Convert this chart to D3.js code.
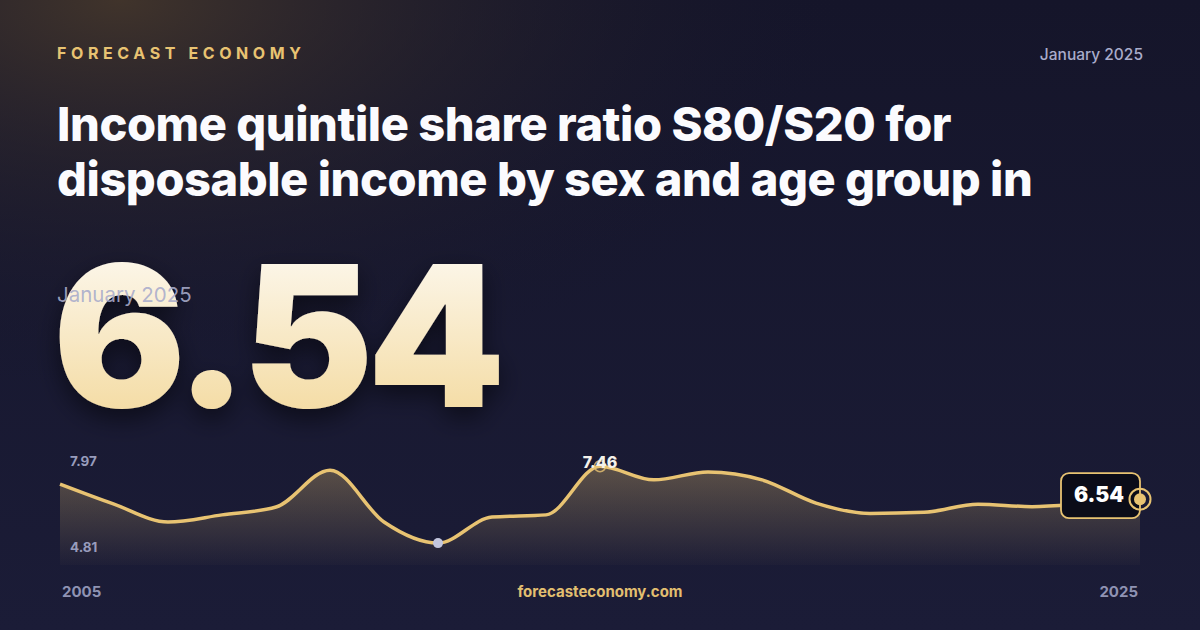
<!DOCTYPE html>
<html>
<head>
<meta charset="utf-8">
<script src="https://cdn.jsdelivr.net/npm/d3@7"></script>
<style>
  html, body { margin: 0; padding: 0; background: #15152a; }
  svg { display: block; font-family: Inter, "Noto Sans", sans-serif; }
</style>
</head>
<body>
<div id="card"></div>
<script>
// data
const years = [2005, 2006, 2007, 2008, 2009, 2010, 2011, 2012, 2013, 2014, 2015,
               2016, 2017, 2018, 2019, 2020, 2021, 2022, 2023, 2024, 2025]
const ratio = [6.96, 6.40, 5.90, 6.10, 6.32, 7.35, 5.90, 5.31, 6.04, 6.10, 7.46,
               7.08, 7.30, 7.08, 6.43, 6.14, 6.17, 6.40, 6.33, 6.42, 6.54]
const yTicks = [7.97, 4.81]
const peakYear = 2015
const minYear = 2012
const headline = "6.54"
const period = "January 2025"
const title = ["Income quintile share ratio S80/S20 for",
               "disposable income by sex and age group in"]

const W = 1200, H = 630
const gold = "#e8c372"

const svg = d3.select("#card").append("svg")
    .attr("width", W)
    .attr("height", H)

const defs = svg.append("defs")

// background: vertical base plus warm glow in the top-left corner
const base = defs.append("linearGradient").attr("id", "bgBase")
    .attr("x1", 0).attr("y1", 0).attr("x2", 0).attr("y2", 1)
base.append("stop").attr("offset", "0%").attr("stop-color", "#15152a")
base.append("stop").attr("offset", "100%").attr("stop-color", "#1b1c37")

const glow = defs.append("radialGradient").attr("id", "bgGlow")
    .attr("cx", "0.1").attr("cy", "0").attr("r", "0.62")
glow.append("stop").attr("offset", "0%").attr("stop-color", "#45372b").attr("stop-opacity", 0.9)
glow.append("stop").attr("offset", "45%").attr("stop-color", "#30292c").attr("stop-opacity", 0.45)
glow.append("stop").attr("offset", "100%").attr("stop-color", "#15152a").attr("stop-opacity", 0)

const numGrad = defs.append("linearGradient").attr("id", "numGrad")
    .attr("x1", 0).attr("y1", 0).attr("x2", 0).attr("y2", 1)
numGrad.append("stop").attr("offset", "0%").attr("stop-color", "#fefdfb")
numGrad.append("stop").attr("offset", "100%").attr("stop-color", "#f2d592")

const areaGrad = defs.append("linearGradient").attr("id", "areaGrad")
    .attr("x1", 0).attr("y1", 0).attr("x2", 0).attr("y2", 1)
areaGrad.append("stop").attr("offset", "0%").attr("stop-color", gold).attr("stop-opacity", 0.32)
areaGrad.append("stop").attr("offset", "100%").attr("stop-color", gold).attr("stop-opacity", 0.02)

const shadow = defs.append("filter").attr("id", "shadow")
    .attr("x", "-20%").attr("y", "-20%").attr("width", "140%").attr("height", "150%")
shadow.append("feDropShadow").attr("dx", 0).attr("dy", 10).attr("stdDeviation", 12)
    .attr("flood-color", "#000").attr("flood-opacity", 0.5)

svg.append("rect").attr("width", W).attr("height", H).attr("fill", "url(#bgBase)")
svg.append("rect").attr("width", W).attr("height", H).attr("fill", "url(#bgGlow)")

// header
svg.append("text")
    .attr("x", 57).attr("y", 59)
    .attr("fill", gold)
    .attr("font-size", 16).attr("font-weight", 700)
    .attr("letter-spacing", 4.6)
    .text("FORECAST ECONOMY")

svg.append("text")
    .attr("x", 1143).attr("y", 60)
    .attr("text-anchor", "end")
    .attr("fill", "#a9accb")
    .attr("font-size", 15.5).attr("font-weight", 500)
    .text(period)

svg.append("g").selectAll("text")
    .data(title)
    .join("text")
    .attr("x", 57)
    .attr("y", (d, i) => 141 + i * 55)
    .attr("fill", "#fbfbfe")
    .attr("font-size", 47).attr("font-weight", 800)
    .attr("letter-spacing", -0.45)
    .text(d => d)

// big number
svg.append("text")
    .attr("x", 53).attr("y", 407)
    .attr("fill", "url(#numGrad)")
    .attr("font-size", 197).attr("font-weight", 900)
    .attr("letter-spacing", -6)
    .attr("filter", "url(#shadow)")
    .text(headline)

svg.append("text")
    .attr("x", 57).attr("y", 302)
    .attr("fill", "#a9accb")
    .attr("fill-opacity", 0.9)
    .attr("font-size", 20.5).attr("font-weight", 400)
    .text(period)

// sparkline
const margin = { left: 60, top: 448, right: 60 }
const innerW = W - margin.left - margin.right
const innerH = 117

const g = svg.append("g")
    .attr("transform", "translate(" + margin.left + "," + margin.top + ")")

const x = d3.scaleLinear()
    .domain(d3.extent(years))
    .range([0, innerW])

const y = d3.scaleLinear()
    .domain([yTicks[1], yTicks[0]])
    .range([innerH - 4, 0])

const pts = years.map((yr, i) => ({ year: yr, value: ratio[i] }))

const area = d3.area()
    .curve(d3.curveMonotoneX)
    .x(d => x(d.year))
    .y0(innerH)
    .y1(d => y(d.value))

const line = d3.line()
    .curve(d3.curveMonotoneX)
    .x(d => x(d.year))
    .y(d => y(d.value))

g.append("path").datum(pts)
    .attr("d", area)
    .attr("fill", "url(#areaGrad)")

g.append("path").datum(pts)
    .attr("d", line)
    .attr("fill", "none")
    .attr("stroke", gold)
    .attr("stroke-width", 3.5)
    .attr("stroke-linejoin", "round")

// y labels (max / min)
g.selectAll(".ylab")
    .data(yTicks)
    .join("text")
    .attr("class", "ylab")
    .attr("x", 10)
    .attr("y", (d, i) => i === 0 ? 18 : 104)
    .attr("fill", "#989cbc")
    .attr("font-size", 13.5).attr("font-weight", 700)
    .text(d => d.toFixed(2))

// minimum marker
const minPt = pts.find(d => d.year === minYear)
g.append("circle")
    .attr("cx", x(minPt.year)).attr("cy", y(minPt.value))
    .attr("r", 5)
    .attr("fill", "#c3c6de")

// peak marker
const peak = pts.find(d => d.year === peakYear)
g.append("circle")
    .attr("cx", x(peak.year)).attr("cy", y(peak.value))
    .attr("r", 5.5)
    .attr("fill", "none")
    .attr("stroke", gold)
    .attr("stroke-width", 1.5)
    .attr("stroke-opacity", 0.8)
g.append("text")
    .attr("x", x(peak.year)).attr("y", y(peak.value) + 2)
    .attr("text-anchor", "middle")
    .attr("fill", "#f4f1ea")
    .attr("font-size", 16).attr("font-weight", 800)
    .text(peak.value.toFixed(2))

// last value badge
const last = pts[pts.length - 1]
const lx = x(last.year), ly = y(last.value)
g.append("rect")
    .attr("x", lx - 79).attr("y", ly - 26)
    .attr("width", 79).attr("height", 45)
    .attr("rx", 8)
    .attr("fill", "#0b0c18")
    .attr("stroke", gold)
    .attr("stroke-width", 1.8)
g.append("text")
    .attr("x", lx - 41).attr("y", ly + 3)
    .attr("text-anchor", "middle")
    .attr("fill", "#ffffff")
    .attr("font-size", 21).attr("font-weight", 900)
    .text(last.value.toFixed(2))
g.append("circle")
    .attr("cx", lx).attr("cy", ly)
    .attr("r", 10.5)
    .attr("fill", "none")
    .attr("stroke", gold)
    .attr("stroke-width", 2)
g.append("circle")
    .attr("cx", lx).attr("cy", ly)
    .attr("r", 6)
    .attr("fill", gold)

// footer
svg.append("text")
    .attr("x", 62).attr("y", 597)
    .attr("fill", "#8f93b3")
    .attr("font-size", 15).attr("font-weight", 700)
    .text(years[0])
svg.append("text")
    .attr("x", 1138).attr("y", 597)
    .attr("text-anchor", "end")
    .attr("fill", "#8f93b3")
    .attr("font-size", 15).attr("font-weight", 700)
    .text(years[years.length - 1])
svg.append("text")
    .attr("x", 600).attr("y", 597)
    .attr("text-anchor", "middle")
    .attr("fill", "#e2bf70")
    .attr("font-size", 15).attr("font-weight", 700)
    .text("forecasteconomy.com")
</script>
</body>
</html>
